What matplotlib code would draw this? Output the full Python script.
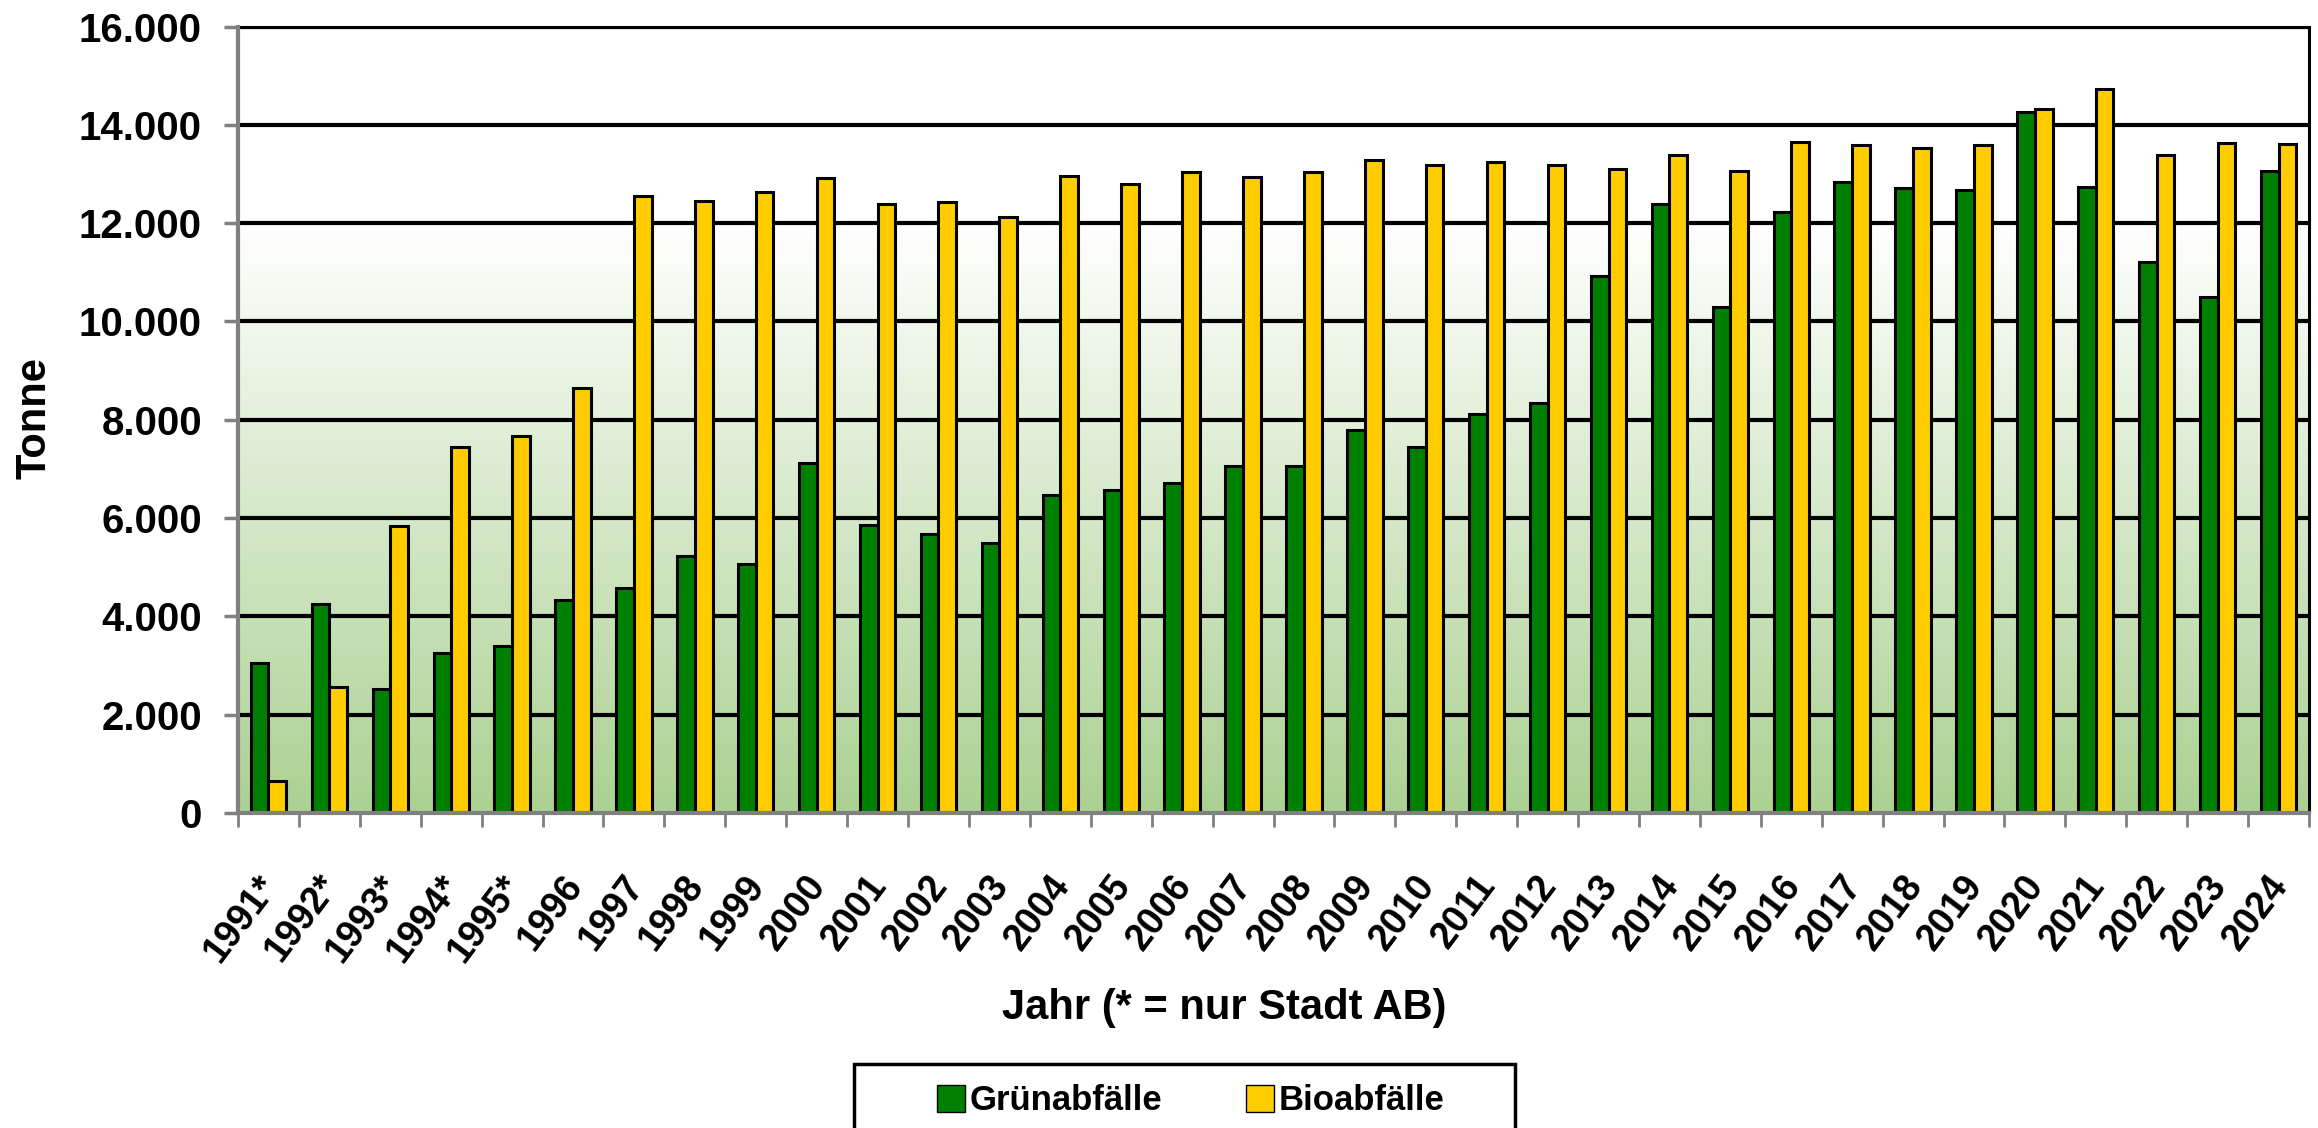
import numpy as np
import matplotlib
matplotlib.use("Agg")
import matplotlib.pyplot as plt
from matplotlib.patches import Rectangle, Patch
from matplotlib.colors import LinearSegmentedColormap
from matplotlib.ticker import FixedLocator, FuncFormatter
from matplotlib.transforms import ScaledTranslation

plt.rcParams['font.family'] = ['Liberation Sans', 'DejaVu Sans']
plt.rcParams['font.weight'] = 'bold'

years = ['1991*', '1992*', '1993*', '1994*', '1995*', '1996', '1997', '1998', '1999',
         '2000', '2001', '2002', '2003', '2004', '2005', '2006', '2007', '2008', '2009',
         '2010', '2011', '2012', '2013', '2014', '2015', '2016', '2017', '2018', '2019',
         '2020', '2021', '2022', '2023', '2024']
gruen = [3060, 4260, 2520, 3250, 3390, 4330, 4580, 5220, 5060,
         7120, 5850, 5670, 5500, 6480, 6570, 6720, 7050, 7070, 7800,
         7440, 8110, 8340, 10930, 12400, 10290, 12230, 12840, 12720, 12680,
         14260, 12730, 11210, 10490, 13060]
bio = [650, 2570, 5840, 7450, 7670, 8640, 12560, 12450, 12640,
       12910, 12390, 12440, 12120, 12960, 12790, 13050, 12950, 13050, 13280,
       13190, 13250, 13180, 13100, 13380, 13070, 13660, 13590, 13540, 13590,
       14330, 14740, 13380, 13640, 13620]
y_ticks = [0, 2000, 4000, 6000, 8000, 10000, 12000, 14000, 16000]
series_names = ['Grünabfälle', 'Bioabfälle']
colors = ['#008000', '#FFCC00']

W, H = 2318, 1128
fig = plt.figure(figsize=(W / 100, H / 100), dpi=100)
ax = fig.add_axes([238 / W, 1 - 813 / H, (2309 - 238) / W, (813 - 26.6) / H])

n = len(years)
x = np.arange(n)
bw = 0.29

# gradient background: white at 12000 to green at 0
cmap = LinearSegmentedColormap.from_list('g', ['#abd192', '#ffffff'])
grad = np.linspace(0, 1, 256).reshape(-1, 1)
ax.imshow(grad, extent=(-0.5, n - 0.5, 0, 12000), origin='lower', cmap=cmap,
          aspect='auto', zorder=0, interpolation='bicubic')
ax.set_xlim(-0.5, n - 0.5)
ax.set_ylim(0, 16000)

for yv in y_ticks[1:]:
    ax.axhline(yv, color='black', lw=3.0, zorder=1)

ax.bar(x - bw / 2, gruen, width=bw, color=colors[0], edgecolor='black', lw=2.2, zorder=3)
ax.bar(x + bw / 2, bio, width=bw, color=colors[1], edgecolor='black', lw=2.2, zorder=3)

ax.yaxis.set_major_locator(FixedLocator(y_ticks))
ax.yaxis.set_major_formatter(FuncFormatter(lambda v, p: f"{int(v):,}".replace(',', '.')))
ax.tick_params(axis='y', length=10, width=2.5, color='#808080', pad=16, labelsize=29)
for lab in ax.get_yticklabels():
    lab.set_fontweight('bold')

ax.set_xticks(x)
ax.set_xticklabels(years, rotation=53, ha='right', va='top', rotation_mode='anchor',
                   fontsize=27, fontweight='bold')
ax.tick_params(axis='x', which='major', length=0, pad=40)
ax.set_xticks(np.arange(n + 1) - 0.5, minor=True)
ax.tick_params(axis='x', which='minor', length=10, width=2, color='#808080')

for s in ['left', 'bottom']:
    ax.spines[s].set_color('#808080')
    ax.spines[s].set_linewidth(3)
    ax.spines[s].set_zorder(5)
for s in ['top', 'right']:
    ax.spines[s].set_color('black')
    ax.spines[s].set_linewidth(2.2)

fig.text(35 / W, 1 - 418 / H, 'Tonne', rotation=90, ha='center', va='center',
         fontsize=30, fontweight='bold')
fig.text(1224 / W, 1 - 1008 / H, 'Jahr (* = nur Stadt AB)', ha='center', va='center',
         fontsize=30, fontweight='bold')

# legend frame
fig.patches.append(Rectangle((854 / W, -0.05), (1515 - 854) / W, 0.05 + (1128 - 1064) / H,
                             transform=fig.transFigure, facecolor='white',
                             edgecolor='black', lw=2.5, zorder=0))
handles = [Patch(facecolor=c, edgecolor='black', lw=1) for c in colors]
leg = fig.legend(handles, series_names, loc='center', bbox_to_anchor=(1191 / W, 1 - 1101 / H),
                 ncol=2, frameon=False, handlelength=0.8, handleheight=0.8,
                 handletextpad=0.15, columnspacing=2.4, borderpad=0,
                 prop={'weight': 'bold', 'size': 25})

fig.canvas.draw()
shift = ScaledTranslation(-12 / 100, 0, fig.dpi_scale_trans)
for lab in ax.get_xticklabels():
    lab.set_transform(lab.get_transform() + shift)

fig.savefig('out.png', dpi=100)
